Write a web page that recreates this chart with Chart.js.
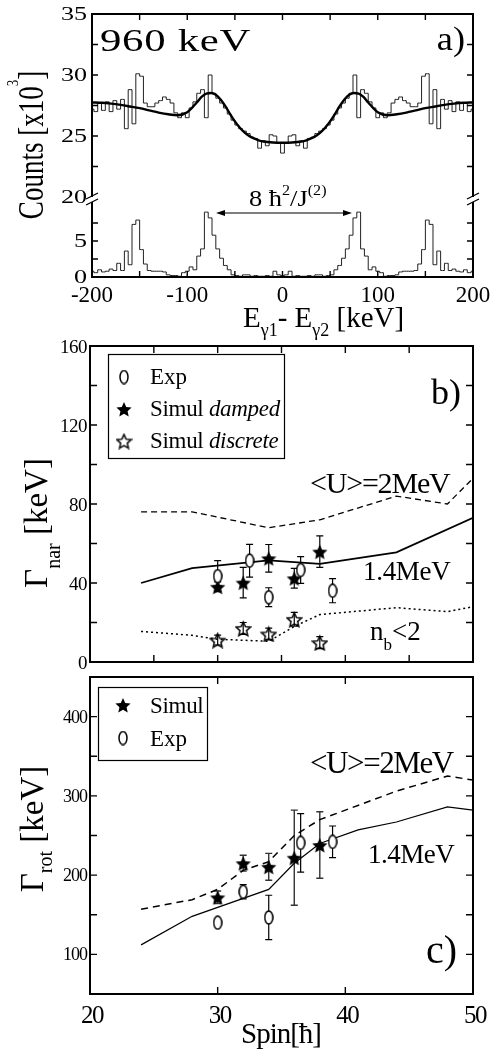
<!DOCTYPE html>
<html>
<head>
<meta charset="utf-8">
<title>Spectrum and widths</title>
<script src="https://cdn.jsdelivr.net/npm/chart.js@4.4.1/dist/chart.umd.min.js"></script>
<style>
  html, body { margin: 0; padding: 0; background: #fff; }
  #page { position: relative; width: 490px; height: 1061px; overflow: hidden; }
  #page canvas { position: absolute; left: 0; top: 0; }
</style>
</head>
<body>
<div id="page">
  <canvas id="chartSpecTop" width="490" height="1061"></canvas>
  <canvas id="chartSpecLow" width="490" height="1061"></canvas>
  <canvas id="chartNar" width="490" height="1061"></canvas>
  <canvas id="chartRot" width="490" height="1061"></canvas>
</div>
<script>
// ---------- panel a) : Eg1 - Eg2 spectrum (counts x10^3) ----------
const binKeV = [-200, -196, -192, -188, -184, -180, -176, -172, -168, -164, -160, -156, -152, -148, -144, -140, -136, -132, -128, -124,
  -120, -116, -112, -108, -104, -100, -96, -92, -88, -84, -80, -76, -72, -68, -64, -60, -56, -52, -48, -44,
  -40, -36, -32, -28, -24, -20, -16, -12, -8, -4, 0, 4, 8, 12, 16, 20, 24, 28, 32, 36,
  40, 44, 48, 52, 56, 60, 64, 68, 72, 76, 80, 84, 88, 92, 96, 100, 104, 108, 112, 116,
  120, 124, 128, 132, 136, 140, 144, 148, 152, 156, 160, 164, 168, 172, 176, 180, 184, 188, 192, 196, 200];

const countsTop = [27.2, 27.0, 27.7, 27.1, 27.8, 27.0, 27.9, 27.2, 28.0, 25.6, 28.8, 26.0, 30.1, 29.9, 27.7, 27.4, 27.4, 27.7, 27.9, 28.2,
  28.0, 27.7, 26.9, 26.5, 26.9, 26.5, 27.3, 27.8, 28.5, 28.8, 26.5, 30.0, 28.5, 28.1, 27.7, 27.3, 26.8, 26.3, 25.9, 25.6,
  25.4, 25.2, 24.9, 24.8, 24.0, 24.6, 24.2, 25.1, 25.0, 24.4, 23.6, 24.4, 25.0, 25.1, 24.2, 24.6, 24.0, 24.8, 24.9, 25.2,
  25.4, 25.6, 25.9, 26.3, 26.8, 27.3, 27.7, 28.1, 28.5, 30.0, 26.5, 28.8, 28.5, 27.8, 27.3, 26.5, 26.9, 26.5, 26.9, 27.7,
  28.0, 28.2, 27.9, 27.7, 27.4, 27.4, 27.7, 29.9, 30.1, 26.0, 28.8, 25.6, 28.0, 27.2, 27.9, 27.0, 27.8, 27.1, 27.7, 27.0, 27.2];

const countsLow = [0.8, 0.6, 1.0, 0.7, 0.8, 1.1, 0.9, 1.9, 0.9, 3.6, 1.7, 7.3, 7.9, 3.8, 1.8, 0.9, 0.8, 0.8, 0.8, 0.7,
  0.3, 0.2, 0.2, 0.1, 0.6, 0.8, 1.4, 1.0, 2.9, 3.9, 9.0, 8.2, 5.8, 3.9, 2.6, 1.6, 1.0, 0.3, 0.2, 0.1,
  0.3, 0.3, 0.1, 0.2, 0.1, 0.1, 0.2, 0.1, 0.8, 0.3, 0.2, 0.3, 0.8, 0.1, 0.2, 0.1, 0.1, 0.2, 0.1, 0.3,
  0.3, 0.1, 0.2, 0.3, 1.0, 1.6, 2.6, 3.9, 5.8, 8.2, 9.0, 3.9, 2.9, 1.0, 1.4, 0.8, 0.6, 0.1, 0.2, 0.2,
  0.3, 0.7, 0.8, 0.8, 0.8, 0.9, 1.8, 3.8, 7.9, 7.3, 1.7, 3.6, 0.9, 1.9, 0.9, 1.1, 0.8, 0.7, 1.0, 0.6, 0.8];

const fitKeV = [-200, -190, -180, -170, -160, -150, -140, -130, -120, -110, -100, -90, -85, -80, -75, -70, -65, -60, -55, -50,
  -45, -40, -35, -30, -25, -20, -10, 0, 10, 20, 25, 30, 35, 40, 45, 50, 55, 60, 65, 70,
  75, 80, 85, 90, 100, 110, 120, 130, 140, 150, 160, 170, 180, 190, 200];
const fitCounts = [27.75, 27.72, 27.65, 27.55, 27.42, 27.28, 27.1, 26.92, 26.78, 26.7, 26.95, 27.75, 28.2, 28.48, 28.52, 28.38, 28.0, 27.45, 26.8, 26.2,
  25.7, 25.3, 25.0, 24.8, 24.65, 24.55, 24.47, 24.45, 24.47, 24.55, 24.65, 24.8, 25.0, 25.3, 25.7, 26.2, 26.8, 27.45, 28.0, 28.38,
  28.52, 28.48, 28.2, 27.75, 26.95, 26.7, 26.78, 26.92, 27.1, 27.28, 27.42, 27.55, 27.65, 27.72, 27.75];

const aTickX = [-200, -150, -100, -50, 0, 50, 100, 150, 200];
const aLabelX = [-200, -100, 0, 100, 200];
const aTickYTop = [22.5, 25, 27.5, 30, 32.5, 35];
const aLabelYTop = [20, 25, 30, 35];
const aTickYLow = [2.5, 5, 7.5];
const aLabelYLow = [0, 5];

// ---------- panel b) : Gamma_nar vs spin ----------
const bDashSpin = [24, 28, 34, 38, 44, 48, 50];
const bDashVal = [76, 76, 68, 72, 84, 80, 93];
const bSolidSpin = [24, 28, 34, 38, 44, 50];
const bSolidVal = [40, 47.5, 51.5, 49.7, 55.5, 73];
const bDotSpin = [24, 28, 30, 34, 36, 38, 44, 48, 50];
const bDotVal = [15.5, 13.5, 11.5, 10.5, 18, 24, 27.5, 25.5, 28];
const bExpSpin = [30, 32.5, 34, 36.5, 39];
const bExpVal = [43.5, 51.3, 32.8, 46.6, 36.1];
const bExpErr = [7.8, 8.3, 4.8, 6.8, 6.1];
const bDampSpin = [30, 32, 34, 36, 38];
const bDampVal = [38.1, 40.2, 52.5, 42.4, 55.9];
const bDampErr = [2.5, 7.7, 7, 5, 8];
const bDiscSpin = [30, 32, 34, 36, 38];
const bDiscVal = [11.1, 17.0, 14.2, 21.6, 9.8];
const bDiscErr = [2.5, 3, 3, 3.5, 3];
const bTickX = [25, 30, 35, 40, 45];
const bTickY = [20, 40, 60, 80, 100, 120, 140];
const bLabelY = [0, 40, 80, 120, 160];

// ---------- panel c) : Gamma_rot vs spin ----------
const cDashSpin = [24, 28, 30, 32, 34, 36, 38, 44, 48, 50];
const cDashVal = [157, 169, 182, 206, 217, 250, 270, 306, 325, 320];
const cSolidSpin = [24, 28, 34, 36, 38, 41, 44, 48, 50];
const cSolidVal = [112, 148, 182, 215, 240, 257, 267, 286, 282];
const cSimSpin = [30, 32, 34, 36, 38];
const cSimVal = [172, 215, 210.5, 222, 238];
const cSimErr = [8, 10, 17, 60, 42];
const cExpSpin = [30, 32, 34, 36.5, 39];
const cExpVal = [140, 179, 146.6, 240.7, 242];
const cExpErr = [0, 9, 28, 37, 20];
const cTickX = [30, 40];
const cLabelX = [20, 30, 40, 50];
const cTickY = [100, 150, 200, 250, 300, 350, 400];
const cLabelY = [100, 200, 300, 400];

const W = 490, H = 1061;
const FONT = '"Liberation Serif", "Times New Roman", serif';

// ---------- helpers ----------
function pts(xs, ys) {
  return xs.map((x, i) => ({ x: x, y: ys[i] }));
}

function baseOptions(l, t, r, b, xr, yr) {
  return {
    responsive: false,
    animation: false,
    events: [],
    layout: { padding: { left: l, top: t, right: W - r, bottom: H - b } },
    plugins: { legend: { display: false }, tooltip: { enabled: false } },
    scales: {
      x: { type: 'linear', display: false, min: xr[0], max: xr[1] },
      y: { type: 'linear', display: false, min: yr[0], max: yr[1] }
    }
  };
}

function fontOf(p) {
  return (p.italic ? 'italic ' : '') + p.size + 'px ' + FONT;
}

function txt(ctx, s, x, y, o) {
  o = o || {};
  ctx.save();
  ctx.font = fontOf({ size: o.size || 20, italic: o.italic });
  ctx.fillStyle = '#000';
  ctx.textBaseline = 'alphabetic';
  ctx.letterSpacing = (o.ls || 0) + 'px';
  const sx = o.sx || 1;
  const w = ctx.measureText(s).width * sx;
  let x0 = x;
  if (o.align === 'center') x0 = x - w / 2;
  if (o.align === 'right') x0 = x - w;
  ctx.translate(x0, y);
  ctx.scale(sx, 1);
  ctx.fillText(s, 0, 0);
  ctx.restore();
}

// text made of pieces (sub / superscripts, italics)
function rich(ctx, parts, x, y, o) {
  o = o || {};
  ctx.save();
  ctx.fillStyle = '#000';
  ctx.textBaseline = 'alphabetic';
  ctx.letterSpacing = (o.ls || 0) + 'px';
  const sx = o.sx || 1;
  let total = 0;
  parts.forEach(p => { ctx.font = fontOf(p); total += ctx.measureText(p.t).width; });
  let x0 = x;
  if (o.align === 'center') x0 = x - total * sx / 2;
  ctx.translate(x0, y);
  ctx.scale(sx, 1);
  let px = 0;
  parts.forEach(p => {
    ctx.font = fontOf(p);
    ctx.fillText(p.t, px, p.dy || 0);
    px += ctx.measureText(p.t).width;
  });
  ctx.restore();
}

function vrich(ctx, parts, cx, cy, sy) {
  ctx.save();
  ctx.translate(cx, cy);
  ctx.rotate(-Math.PI / 2);
  ctx.scale(1, sy || 1);
  rich(ctx, parts, 0, 0, { align: 'center' });
  ctx.restore();
}

function frame(chart, sides, lw) {
  const { ctx, chartArea: a } = chart;
  ctx.save();
  ctx.strokeStyle = '#000';
  ctx.lineWidth = lw;
  ctx.lineCap = 'square';
  ctx.beginPath();
  if (sides.includes('t')) { ctx.moveTo(a.left, a.top); ctx.lineTo(a.right, a.top); }
  if (sides.includes('b')) { ctx.moveTo(a.left, a.bottom); ctx.lineTo(a.right, a.bottom); }
  if (sides.includes('l')) { ctx.moveTo(a.left, a.top); ctx.lineTo(a.left, a.bottom); }
  if (sides.includes('r')) { ctx.moveTo(a.right, a.top); ctx.lineTo(a.right, a.bottom); }
  ctx.stroke();
  ctx.restore();
}

// ticks pointing into the plot
function tickMarks(chart, axis, values, sides, len) {
  const { ctx, chartArea: a } = chart;
  const s = chart.scales[axis];
  ctx.save();
  ctx.strokeStyle = '#000';
  ctx.lineWidth = 1.4;
  ctx.beginPath();
  values.forEach(v => {
    const p = s.getPixelForValue(v);
    if (axis === 'x') {
      if (sides.includes('b')) { ctx.moveTo(p, a.bottom); ctx.lineTo(p, a.bottom - len); }
      if (sides.includes('t')) { ctx.moveTo(p, a.top); ctx.lineTo(p, a.top + len); }
    } else {
      if (sides.includes('l')) { ctx.moveTo(a.left, p); ctx.lineTo(a.left + len, p); }
      if (sides.includes('r')) { ctx.moveTo(a.right, p); ctx.lineTo(a.right - len, p); }
    }
  });
  ctx.stroke();
  ctx.restore();
}

function errBars(chart, dsIndex, errs, color, lw) {
  const { ctx } = chart;
  const ys = chart.scales.y;
  const meta = chart.getDatasetMeta(dsIndex);
  const data = chart.data.datasets[dsIndex].data;
  ctx.save();
  ctx.strokeStyle = color;
  ctx.lineWidth = lw;
  meta.data.forEach((el, i) => {
    const e = errs[i];
    if (!e) return;
    const y1 = ys.getPixelForValue(data[i].y + e);
    const y2 = ys.getPixelForValue(data[i].y - e);
    ctx.beginPath();
    ctx.moveTo(el.x, y1); ctx.lineTo(el.x, y2);
    ctx.moveTo(el.x - 3.5, y1); ctx.lineTo(el.x + 3.5, y1);
    ctx.moveTo(el.x - 3.5, y2); ctx.lineTo(el.x + 3.5, y2);
    ctx.stroke();
  });
  ctx.restore();
}

// marker pictures
function markerEllipse(w, h) {
  const c = document.createElement('canvas');
  c.width = w; c.height = h;
  const g = c.getContext('2d');
  g.beginPath();
  g.ellipse(w / 2, h / 2, w / 2 - 1, h / 2 - 1, 0, 0, Math.PI * 2);
  g.fillStyle = '#fff';
  g.fill();
  g.lineWidth = 1.5;
  g.strokeStyle = '#000';
  g.stroke();
  return c;
}

function markerStar(size, filled) {
  const c = document.createElement('canvas');
  c.width = size; c.height = size;
  const g = c.getContext('2d');
  const ro = size / 2 - 1, ri = ro * 0.47;
  g.beginPath();
  for (let i = 0; i < 10; i++) {
    const r = i % 2 ? ri : ro;
    const ang = -Math.PI / 2 + i * Math.PI / 5;
    const px = size / 2 + r * Math.cos(ang), py = size / 2 + 1 + r * Math.sin(ang);
    if (i) g.lineTo(px, py); else g.moveTo(px, py);
  }
  g.closePath();
  if (filled) {
    g.fillStyle = '#000';
    g.fill();
  } else {
    g.lineWidth = 1.5;
    g.strokeStyle = '#000';
    g.stroke();
  }
  return c;
}

const imgCircle = markerEllipse(10, 15);
const imgStar = markerStar(18, true);
const imgStarOpen = markerStar(17, false);
const imgCircleLeg = markerEllipse(10, 15);

function lineSet(xs, ys, o) {
  return Object.assign({
    data: pts(xs, ys), showLine: true, pointRadius: 0, borderColor: '#000',
    borderWidth: 1.5, fill: false, tension: 0
  }, o);
}

function pointSet(xs, ys, img) {
  return {
    data: pts(xs, ys), showLine: false, pointStyle: img, pointRadius: 5,
    borderColor: '#000', backgroundColor: '#000'
  };
}

// ---------- a) upper part of the broken axis ----------
new Chart(document.getElementById('chartSpecTop'), {
  type: 'scatter',
  data: {
    datasets: [
      lineSet(fitKeV, fitCounts, { borderWidth: 2.4, cubicInterpolationMode: 'monotone', order: 0 }),
      lineSet(binKeV, countsTop, { borderWidth: 1, borderColor: '#222', stepped: 'middle', order: 1 })
    ]
  },
  options: baseOptions(92, 14, 473, 197, [-200, 200], [20, 35]),
  plugins: [{
    id: 'decorTop',
    afterDraw(chart) {
      const ctx = chart.ctx;
      const ys = chart.scales.y;
      frame(chart, 'tlr', 2);
      tickMarks(chart, 'x', aTickX, 't', 6);
      tickMarks(chart, 'y', aTickYTop, 'lr', 6);
      aLabelYTop.forEach(v => txt(ctx, String(v), 87, ys.getPixelForValue(v) + 6, { size: 18, sx: 1.45, align: 'right' }));
      txt(ctx, '960 keV', 100, 51, { size: 31, sx: 1.38, ls: 0.5 });
      txt(ctx, 'a)', 465, 50, { size: 33, sx: 1.1, align: 'right' });
    }
  }]
});

// ---------- a) lower part of the broken axis ----------
new Chart(document.getElementById('chartSpecLow'), {
  type: 'scatter',
  data: {
    datasets: [
      lineSet(binKeV, countsLow, { borderWidth: 1, borderColor: '#222', stepped: 'middle' })
    ]
  },
  options: baseOptions(92, 197, 473, 277, [-200, 200], [0, 11.1]),
  plugins: [{
    id: 'decorLow',
    afterDraw(chart) {
      const ctx = chart.ctx;
      const xs = chart.scales.x, ys = chart.scales.y;
      const a = chart.chartArea;
      frame(chart, 'blr', 2);
      tickMarks(chart, 'x', aTickX, 'b', 6);
      tickMarks(chart, 'y', aTickYLow, 'lr', 6);
      aLabelYLow.forEach(v => txt(ctx, String(v), 87, ys.getPixelForValue(v) + 6, { size: 18, sx: 1.45, align: 'right' }));
      aLabelX.forEach(v => txt(ctx, String(v), xs.getPixelForValue(v), 302, { size: 23, align: 'center' }));

      // axis titles
      rich(ctx, [
        { t: 'E', size: 29 }, { t: 'γ1', size: 18, dy: 9 },
        { t: '- E', size: 29 }, { t: 'γ2', size: 18, dy: 9 },
        { t: ' [keV]', size: 29 }
      ], 243, 327);
      vrich(ctx, [
        { t: 'Counts [x10', size: 27 }, { t: '3', size: 13, dy: -19 }, { t: ']', size: 27 }
      ], 43, 145, 1.3);

      // break marks on both vertical axes
      [a.left, a.right].forEach(x0 => {
        ctx.save();
        ctx.fillStyle = '#fff';
        ctx.fillRect(x0 - 2, 197, 4, 5);
        ctx.strokeStyle = '#000';
        ctx.lineWidth = 1.3;
        ctx.beginPath();
        ctx.moveTo(x0 - 6, 199); ctx.lineTo(x0 + 6, 193);
        ctx.moveTo(x0 - 6, 205); ctx.lineTo(x0 + 6, 199);
        ctx.stroke();
        ctx.restore();
      });

      // 8 hbar^2 / J(2) arrow
      const xa = 216, xb = 352, ya = 213;
      ctx.save();
      ctx.strokeStyle = '#000';
      ctx.fillStyle = '#000';
      ctx.lineWidth = 1.2;
      ctx.beginPath(); ctx.moveTo(xa + 6, ya); ctx.lineTo(xb - 6, ya); ctx.stroke();
      ctx.beginPath(); ctx.moveTo(xa, ya); ctx.lineTo(xa + 9, ya - 3); ctx.lineTo(xa + 9, ya + 3); ctx.closePath(); ctx.fill();
      ctx.beginPath(); ctx.moveTo(xb, ya); ctx.lineTo(xb - 9, ya - 3); ctx.lineTo(xb - 9, ya + 3); ctx.closePath(); ctx.fill();
      ctx.restore();
      rich(ctx, [
        { t: '8 ħ', size: 23 }, { t: '2', size: 14, dy: -11 }, { t: '/J', size: 23 }, { t: '(2)', size: 14, dy: -11 }
      ], 249, 206, { sx: 1.15 });
    }
  }]
});

// ---------- b) Gamma_nar ----------
new Chart(document.getElementById('chartNar'), {
  type: 'scatter',
  data: {
    datasets: [
      pointSet(bExpSpin, bExpVal, imgCircle),
      pointSet(bDampSpin, bDampVal, imgStar),
      pointSet(bDiscSpin, bDiscVal, imgStarOpen),
      lineSet(bDashSpin, bDashVal, { borderWidth: 1.3, borderDash: [6, 4] }),
      lineSet(bSolidSpin, bSolidVal, { borderWidth: 1.8 }),
      lineSet(bDotSpin, bDotVal, { borderWidth: 1.5, borderDash: [2, 3] })
    ]
  },
  options: baseOptions(90, 346, 473, 662, [20, 50], [0, 160]),
  plugins: [{
    id: 'decorNar',
    beforeDatasetsDraw(chart) {
      errBars(chart, 0, bExpErr, '#000', 1.2);
      errBars(chart, 1, bDampErr, '#000', 1.2);
      errBars(chart, 2, bDiscErr, '#000', 1.2);
    },
    afterDraw(chart) {
      const ctx = chart.ctx;
      const ys = chart.scales.y;
      frame(chart, 'tblr', 2);
      tickMarks(chart, 'x', bTickX, 'tb', 7);
      tickMarks(chart, 'y', bTickY, 'lr', 7);
      bLabelY.forEach(v => txt(ctx, String(v), 87, ys.getPixelForValue(v) + 6.5, { size: 19, align: 'right', ls: -0.5 }));
      vrich(ctx, [
        { t: 'Γ', size: 33 }, { t: 'nar', size: 20, dy: 13 }, { t: ' [keV]', size: 33 }
      ], 47, 523);

      // legend
      ctx.save();
      ctx.strokeStyle = '#000';
      ctx.lineWidth = 1.2;
      ctx.strokeRect(108.5, 354.5, 176, 104);
      ctx.restore();
      ctx.drawImage(imgCircleLeg, 124 - 5, 377 - 7.5);
      ctx.drawImage(imgStar, 124 - 9, 409 - 9);
      ctx.drawImage(imgStarOpen, 124 - 8.5, 441 - 8.5);
      txt(ctx, 'Exp', 150, 384, { size: 23 });
      rich(ctx, [{ t: 'Simul ', size: 23 }, { t: 'damped', size: 23, italic: true }], 150, 416, { ls: -0.3 });
      rich(ctx, [{ t: 'Simul ', size: 23 }, { t: 'discrete', size: 23, italic: true }], 150, 448, { ls: -0.3 });

      txt(ctx, 'b)', 461, 404, { size: 36, align: 'right' });
      txt(ctx, '<U>=2MeV', 310, 493, { size: 30, ls: -1.2 });
      txt(ctx, '1.4MeV', 363, 580, { size: 27, ls: -0.3 });
      rich(ctx, [{ t: 'n', size: 27 }, { t: 'b', size: 17, dy: 10 }, { t: '<2', size: 27 }], 370, 640);
    }
  }]
});

// ---------- c) Gamma_rot ----------
new Chart(document.getElementById('chartRot'), {
  type: 'scatter',
  data: {
    datasets: [
      pointSet(cSimSpin, cSimVal, imgStar),
      pointSet(cExpSpin, cExpVal, imgCircle),
      lineSet(cDashSpin, cDashVal, { borderWidth: 1.5, borderDash: [7, 5] }),
      lineSet(cSolidSpin, cSolidVal, { borderWidth: 1.2 })
    ]
  },
  options: baseOptions(90, 677, 473, 994, [20, 50], [50, 450]),
  plugins: [{
    id: 'decorRot',
    beforeDatasetsDraw(chart) {
      errBars(chart, 0, cSimErr, '#333', 1.4);
      errBars(chart, 1, cExpErr, '#000', 1.2);
    },
    afterDraw(chart) {
      const ctx = chart.ctx;
      const xs = chart.scales.x, ys = chart.scales.y;
      frame(chart, 'tblr', 2);
      tickMarks(chart, 'x', cTickX, 'tb', 7);
      tickMarks(chart, 'y', cTickY, 'lr', 7);
      cLabelY.forEach(v => txt(ctx, String(v), 87, ys.getPixelForValue(v) + 6, { size: 18, align: 'right', ls: -1 }));
      cLabelX.forEach(v => txt(ctx, String(v), xs.getPixelForValue(v) + 2, 1023, { size: 25, align: 'center', ls: -1.5 }));
      txt(ctx, 'Spin[ħ]', 281, 1043, { size: 29, align: 'center', ls: -1 });
      vrich(ctx, [
        { t: 'Γ', size: 33 }, { t: 'rot', size: 20, dy: 9 }, { t: ' [keV]', size: 33 }
      ], 43, 829);

      // legend
      ctx.save();
      ctx.strokeStyle = '#000';
      ctx.lineWidth = 1.2;
      ctx.strokeRect(98.5, 687.5, 109, 73);
      ctx.restore();
      ctx.drawImage(imgStar, 123 - 9, 705 - 9);
      ctx.drawImage(imgCircleLeg, 123 - 5, 738 - 7.5);
      txt(ctx, 'Simul', 150, 713, { size: 23, ls: -0.3 });
      txt(ctx, 'Exp', 150, 746, { size: 23 });

      txt(ctx, '<U>=2MeV', 310, 773, { size: 31, ls: -1.4 });
      txt(ctx, '1.4MeV', 368, 863, { size: 27, ls: -0.5 });
      txt(ctx, 'c)', 457, 963, { size: 40, align: 'right' });
    }
  }]
});
</script>
</body>
</html>
